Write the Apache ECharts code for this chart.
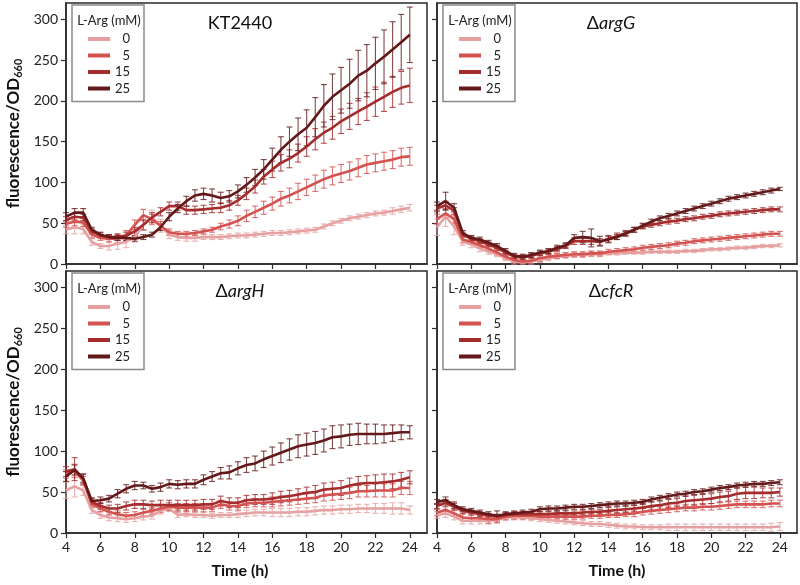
<!DOCTYPE html>
<html>
<head>
<meta charset="utf-8">
<script src="https://cdn.jsdelivr.net/npm/echarts@6/dist/echarts.min.js"></script>
<style>
html,body{margin:0;padding:0;background:#fff;}
#chart{width:800px;height:585px;}
</style>
</head>
<body>
<div id="chart"></div>
<script>
// ---- data ----
const hours = [4,4.5,5,5.5,6,6.5,7,7.5,8,8.5,9,9.5,10,10.5,11,11.5,12,12.5,13,13.5,14,14.5,15,15.5,16,16.5,17,17.5,18,18.5,19,19.5,20,20.5,21,21.5,22,22.5,23,23.5,24];
const xTicks = [4,6,8,10,12,14,16,18,20,22,24];
const yTicks = [0,50,100,150,200,250,300];
const levels = ['0','5','15','25'];
const panelTitles = ['KT2440','ΔargG','ΔargH','ΔcfcR'];

// KT2440
const kt_0  = [42,45,43,27,22,22,25,27,33,48,57,47,36,33,32,32,33,33,33,34,35,35,36,37,38,38,39,40,41,42,46,50,53,56,58,60,62,63,65,67,69];
const kt_5  = [49,52,51,36,32,31,31,35,48,60,55,47,39,37,37,38,40,42,46,49,53,59,64,69,74,80,84,89,94,99,104,108,111,114,118,122,124,126,128,131,132];
const kt_15 = [54,58,57,40,35,33,33,35,40,48,57,64,71,71,66,66,67,68,69,72,78,86,95,107,116,124,129,136,144,153,161,167,175,181,187,193,199,205,211,216,219];
const kt_25 = [58,63,63,42,36,33,32,32,31,33,36,45,58,68,77,84,86,84,81,83,89,97,106,116,128,140,150,159,167,180,194,205,213,221,231,237,246,254,263,272,281];
const kt_0_err  = [5,8,6,4,3,5,7,7,6,7,9,8,5,4,4,4,3,3,3,3,3,3,3,3,3,3,3,3,3,3,3,3,3,3,3,3,3,3,4,4,4];
const kt_5_err  = [4,5,5,4,3,4,5,6,6,7,6,5,4,3,3,3,3,3,4,5,6,7,7,8,8,9,9,10,10,10,11,11,11,11,11,11,11,11,11,11,11];
const kt_15_err = [4,4,4,3,3,3,4,4,5,6,6,5,5,5,5,5,5,5,6,6,6,7,8,9,10,10,11,11,12,13,13,14,15,16,16,17,18,18,19,20,21];
const kt_25_err = [5,5,5,3,3,3,3,3,3,3,3,4,5,5,6,7,7,8,7,7,8,9,10,12,14,16,18,20,22,24,26,28,28,30,31,32,32,33,34,34,34];

// ΔargG
const argG_0  = [45,58,46,28,24,19,15,12,7,3,2,3,5,7,9,10,11,11,12,12,13,13,14,14,14,15,15,15,15,16,16,17,18,18,19,20,20,21,22,22,23];
const argG_5  = [55,62,55,30,27,23,19,14,9,5,3,4,7,9,10,11,12,12,13,13,15,16,17,18,20,21,22,23,25,26,28,29,30,31,32,33,34,35,36,37,37];
const argG_15 = [68,72,65,36,31,28,24,20,14,9,8,10,13,15,18,22,28,28,28,27,31,34,38,42,46,48,50,52,53,55,56,58,59,61,62,63,64,65,66,67,67];
const argG_25 = [71,77,69,38,32,30,26,22,16,10,9,11,14,16,20,23,32,33,32,28,30,33,37,42,47,52,56,59,62,65,68,71,74,77,80,82,84,86,88,90,92];
const argG_0_err  = [10,12,10,5,4,4,3,3,3,3,3,3,3,3,3,3,3,3,3,3,2,2,2,2,2,2,2,2,2,2,2,2,2,2,2,2,2,2,2,2,2];
const argG_5_err  = [6,6,5,4,3,3,3,3,3,3,4,5,4,3,3,3,3,3,3,3,3,3,3,3,3,3,3,3,3,3,3,3,3,3,3,3,3,3,3,3,3];
const argG_15_err = [4,5,4,3,3,3,3,3,3,3,3,3,3,3,3,3,4,4,4,4,4,4,3,3,3,3,3,3,3,3,3,3,3,3,3,3,3,3,3,3,3];
const argG_25_err = [5,11,5,3,3,3,3,3,3,3,3,3,3,3,3,3,4,7,11,6,4,3,3,3,3,3,3,3,3,3,3,3,3,3,3,3,3,3,3,3,2];

// ΔargH
const argH_0  = [52,57,52,28,22,19,18,17,18,20,21,27,30,22,23,22,22,21,22,22,23,24,25,25,25,25,25,26,26,27,28,28,29,29,30,30,30,30,30,30,28];
const argH_5  = [72,76,64,35,30,26,23,21,22,25,27,30,32,31,31,31,31,31,35,33,33,36,37,37,38,39,40,41,42,43,46,47,48,49,51,51,52,52,52,55,55];
const argH_15 = [75,78,66,38,33,30,30,33,35,35,34,34,34,34,34,34,35,35,39,37,37,40,41,41,42,44,45,47,49,50,53,54,55,58,60,61,61,62,63,65,68];
const argH_25 = [69,77,67,39,40,42,48,54,58,58,54,56,60,59,60,60,65,69,73,74,79,83,85,90,94,98,102,106,108,110,113,117,118,120,121,121,121,121,122,123,123];
const argH_0_err  = [10,13,6,4,4,4,4,4,4,4,4,4,3,3,3,3,3,3,3,3,4,4,4,4,5,5,5,5,5,5,5,5,5,5,5,5,6,6,7,7,5];
const argH_5_err  = [5,8,5,4,4,4,4,4,4,4,4,5,5,5,5,5,5,5,5,5,5,5,5,5,6,6,6,6,6,6,7,7,7,7,7,7,8,8,8,8,8];
const argH_15_err = [6,14,6,4,4,4,5,5,5,5,5,6,6,6,6,6,6,6,6,6,6,6,6,6,7,7,7,7,7,8,8,8,9,9,9,9,10,10,9,9,8];
const argH_25_err = [6,6,5,4,4,4,5,5,5,4,4,5,5,5,5,5,6,6,7,8,8,9,9,10,11,12,13,14,14,14,14,14,14,13,13,12,12,11,10,9,8];

// ΔcfcR
const cfcR_0  = [22,24,20,15,15,15,15,16,19,19,19,18,17,16,15,14,13,12,11,11,10,9,8,8,7,7,7,7,7,7,7,7,7,7,7,7,7,7,7,7,8];
const cfcR_5  = [25,28,24,19,18,18,17,17,20,21,21,21,20,20,20,20,20,20,21,21,22,22,23,24,26,27,28,29,30,31,31,32,32,33,34,35,35,35,35,36,36];
const cfcR_15 = [33,37,32,27,25,23,21,20,22,23,23,23,23,23,24,24,24,25,26,26,27,28,29,30,31,33,34,36,37,39,40,41,42,44,45,48,49,49,49,49,50];
const cfcR_25 = [38,40,34,29,27,25,23,21,23,24,25,26,29,30,30,31,32,32,33,34,35,36,36,37,38,41,43,45,47,48,50,51,53,55,56,58,59,60,60,61,62];
const cfcR_0_err  = [4,5,4,4,4,4,4,4,3,3,3,3,3,3,3,3,3,3,3,3,3,3,3,3,3,3,3,4,4,4,4,4,4,4,4,4,4,4,4,5,5];
const cfcR_5_err  = [4,4,4,4,4,4,5,4,4,4,4,4,3,3,3,3,3,3,3,3,3,3,3,4,4,4,4,4,4,4,4,4,4,4,4,4,4,4,4,4,4];
const cfcR_15_err = [3,4,4,3,3,3,3,3,3,3,3,3,3,3,3,3,3,3,3,3,4,4,4,4,5,5,5,5,5,6,6,6,6,6,6,7,7,7,6,6,5];
const cfcR_25_err = [3,4,4,3,3,3,3,6,3,3,3,3,3,3,3,3,3,3,3,3,3,3,3,3,3,3,3,3,3,3,3,3,3,3,3,3,3,3,3,3,3];

// ---- assembly ----
const panels = [
  {vals:[kt_0,kt_5,kt_15,kt_25], errs:[kt_0_err,kt_5_err,kt_15_err,kt_25_err]},
  {vals:[argG_0,argG_5,argG_15,argG_25], errs:[argG_0_err,argG_5_err,argG_15_err,argG_25_err]},
  {vals:[argH_0,argH_5,argH_15,argH_25], errs:[argH_0_err,argH_5_err,argH_15_err,argH_25_err]},
  {vals:[cfcR_0,cfcR_5,cfcR_15,cfcR_25], errs:[cfcR_0_err,cfcR_5_err,cfcR_15_err,cfcR_25_err]}
];
const colors = ['#E6A0A0','#D4524F','#A52C2C','#631919'];
const FONT = 'Lato, "Open Sans", sans-serif';
const grids = [
  {left:66, top:3, width:361, height:261},
  {left:437, top:3, width:360, height:261},
  {left:66, top:271, width:361, height:262},
  {left:437, top:271, width:360, height:262}
];

const option = {
  animation:false,
  backgroundColor:'#fff',
  textStyle:{fontFamily:FONT},
  grid: grids.map(g => Object.assign({show:true, borderColor:'#2a2a2a', borderWidth:1.5, backgroundColor:'#fff'}, g)),
  xAxis: grids.map((g,i) => ({
    type:'value', gridIndex:i, min:4, max:25,
    axisLine:{show:true, onZero:false, lineStyle:{color:'#2a2a2a', width:1.5}},
    axisTick:{show:true, length:5, customValues:xTicks, lineStyle:{color:'#2a2a2a', width:1.2}},
    axisLabel:{show:i>=2, customValues:xTicks, fontSize:14, color:'#222', fontFamily:FONT, margin:7},
    splitLine:{show:false},
    name: i>=2 ? 'Time (h)' : '',
    nameLocation:'middle', nameGap:30,
    nameTextStyle:{fontSize:16, fontWeight:'bold', color:'#111', fontFamily:FONT, padding: i===2 ? [0,13,0,0] : 0}
  })),
  yAxis: grids.map((g,i) => ({
    type:'value', gridIndex:i, min:0, max:320,
    axisLine:{show:true, lineStyle:{color:'#2a2a2a', width:1.5}},
    axisTick:{show:true, length:5, customValues:yTicks, lineStyle:{color:'#2a2a2a', width:1.2}},
    axisLabel:{show:i%2===0, customValues:yTicks, fontSize:14, color:'#222', fontFamily:FONT, margin:8},
    splitLine:{show:false},
    name: i%2===0 ? '{a|fluorescence/OD}{s|660}' : '',
    nameLocation:'middle', nameGap:42, nameRotate:90,
    nameTextStyle:{color:'#111', rich:{
      a:{fontSize:17, fontWeight:'bold', fontFamily:FONT, color:'#111'},
      s:{fontSize:11, fontWeight:'bold', fontFamily:FONT, color:'#111', padding:[9,0,0,0]}
    }}
  })),
  legend: grids.map((g,i) => ({
    data:levels, orient:'vertical', left:g.left+6, top:g.top+2,
    padding:[26,14,5,16], itemGap:0.5, itemWidth:22, itemHeight:4, icon:'rect',
    borderColor:'#8a8a8a', borderWidth:1.5, backgroundColor:'#fff',
    formatter: n => '{r|' + n + '}',
    textStyle:{fontFamily:FONT, fontSize:13, color:'#222', lineHeight:16,
      rich:{r:{width:15, align:'right', fontSize:13, fontFamily:FONT, color:'#222', lineHeight:16}}},
    selectedMode:false, z:10
  })),
  graphic: [],
  series: []
};

grids.forEach((g,i) => {
  // panel title
  const cx = g.left + 174, cy = g.top + 20;
  const t = panelTitles[i];
  const rich = {n:{fontSize:18, fontFamily:FONT, fill:'#111'}, it:{fontSize:18, fontFamily:FONT, fontStyle:'italic', fill:'#111'}};
  const txt = t.startsWith('Δ') ? '{n|Δ}{it|' + t.slice(1) + '}' : '{n|' + t + '}';
  option.graphic.push({type:'text', x:cx, y:cy, z:20, style:{text:txt, rich:rich, align:'center', verticalAlign:'middle'}});
  // legend title
  option.graphic.push({type:'text', x:g.left+6+37, y:g.top+2+16, z:20,
    style:{text:'L-Arg (mM)', fontSize:13, fontFamily:FONT, fill:'#222', align:'center', verticalAlign:'middle'}});
});

panels.forEach((p,i) => {
  p.vals.forEach((vals,k) => {
    const errs = p.errs[k];
    const col = colors[k];
    option.series.push({
      type:'custom', xAxisIndex:i, yAxisIndex:i, silent:true, z:2,
      data: hours.map((h,j) => [h, Math.max(0, vals[j]-errs[j]), vals[j]+errs[j]]),
      encode:{x:0, y:[1,2]},
      renderItem:(params, api) => {
        const x = api.value(0);
        const lo = api.coord([x, api.value(1)]);
        const hi = api.coord([x, api.value(2)]);
        const w = 3;
        const st = {stroke:col, lineWidth:1.1, opacity:0.8};
        return {type:'group', children:[
          {type:'line', shape:{x1:lo[0], y1:lo[1], x2:hi[0], y2:hi[1]}, style:st},
          {type:'line', shape:{x1:lo[0]-w, y1:lo[1], x2:lo[0]+w, y2:lo[1]}, style:st},
          {type:'line', shape:{x1:hi[0]-w, y1:hi[1], x2:hi[0]+w, y2:hi[1]}, style:st}
        ]};
      }
    });
  });
  p.vals.forEach((vals,k) => {
    option.series.push({
      type:'line', name:levels[k], xAxisIndex:i, yAxisIndex:i, z:3 + k,
      data: hours.map((h,j) => [h, vals[j]]),
      showSymbol:false, symbol:'none', smooth:false,
      lineStyle:{color:colors[k], width:2.6},
      itemStyle:{color:colors[k]}
    });
  });
});

const chart = echarts.init(document.getElementById('chart'), null, {renderer:'canvas'});
chart.setOption(option);
</script>
</body>
</html>
